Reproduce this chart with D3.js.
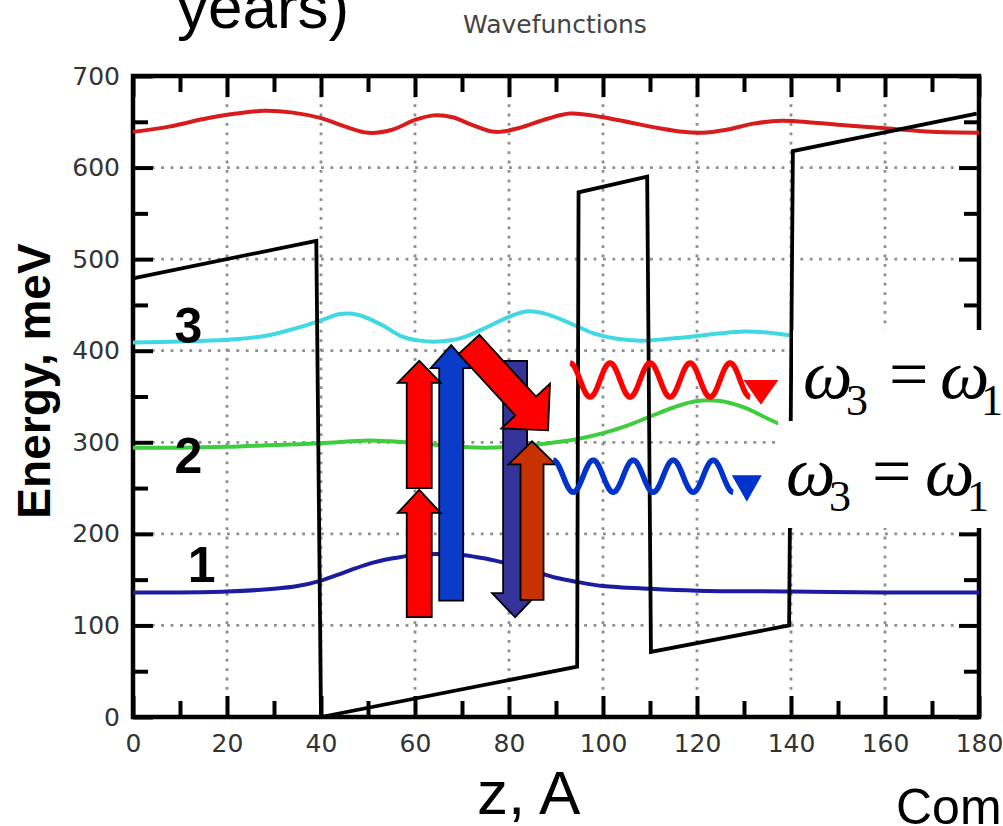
<!DOCTYPE html>
<html>
<head>
<meta charset="utf-8">
<script src="https://cdn.jsdelivr.net/npm/d3@7"></script>
<style>
  body { margin: 0; background: #fff; }
  svg { display: block; }
</style>
</head>
<body>
<svg id="chart" width="1003" height="826"></svg>
<script>
// ---------------- data ----------------
// Conduction-band edge (z in Å, energy in meV)
const potentialZ = [0, 39, 40, 94.5, 94.8, 109.4, 110.2, 139.6, 140.4, 179.5];
const potentialE = [479, 520, 0, 55, 573, 590, 71, 100, 618, 659];

// Wavefunctions plotted at their level energies
const redZ  = [0, 8, 15, 22, 28, 34, 40, 45, 50, 55, 60, 64, 68, 72, 77, 82, 88, 93, 100, 106, 112, 117, 121, 126, 132, 138, 145, 152, 160, 170, 180];
const redE  = [639, 645, 653, 659, 662, 660, 654, 645, 638, 641, 652, 657, 655, 647, 639, 643, 653, 659, 655, 649, 643, 639, 638, 641, 648, 651, 649, 646, 643, 639, 638];

const cyanZ = [0, 10, 20, 28, 35, 40, 44, 48, 53, 57, 61, 65, 70, 75, 80, 84, 88, 93, 98, 103, 108, 114, 120, 125, 130, 135, 140, 150, 160, 170, 180];
const cyanE = [409, 410, 412, 416, 425, 433, 440, 439, 428, 416, 411, 410, 414, 425, 437, 443, 440, 430, 419, 413, 411, 413, 416, 419, 421, 420, 417, 415, 414, 414, 414];

const greenZ = [0, 10, 20, 30, 40, 50, 55, 60, 65, 70, 75, 80, 85, 90, 95, 100, 105, 110, 115, 120, 125, 130, 135, 140, 150, 160, 170, 180];
const greenE = [294, 294, 295, 297, 299, 302, 301, 299, 297, 295, 294, 295, 297, 300, 304, 310, 318, 328, 338, 345, 345, 338, 326, 315, 302, 297, 295, 295];

const blueZ = [0, 10, 20, 30, 35, 40, 45, 50, 55, 60, 65, 70, 75, 80, 85, 90, 95, 100, 110, 120, 140, 160, 180];
const blueE = [136, 136, 137, 140, 143, 149, 158, 167, 173, 177, 178, 177, 173, 167, 160, 152, 147, 143, 140, 138, 137, 136, 136];

// Level numbers: label text, z, energy of baseline
const levelText = ["3", "2", "1"];
const levelZ    = [11.8, 11.8, 14.6];
const levelE    = [408, 267, 147];

// Transition arrows (from -> to), drawn in this order
const arrowFromZ = [67.7, 60.9, 60.9, 81.3, 84.9, 71.5];
const arrowFromE = [127, 109, 250, 389, 128, 407];
const arrowToZ   = [67.7, 60.9, 60.9, 81.3, 84.9, 88.3];
const arrowToE   = [406, 248, 389, 109, 301, 313];

// Emitted photons: z range, centre energy, amplitude (meV), number of cycles
const photonZ0 = [93.0, 89.4];
const photonZ1 = [131.3, 127.7];
const photonE  = [368, 263];
const photonAmp = [18.6, 17.5];
const photonCycles = [4.5, 4.5];
const photonHeadZ = [133.6, 130.6];
const photonHeadTopE = [368, 264];
const photonHeadTipE = [341, 235];

// Axis ticks
const xTicks = [0, 20, 40, 60, 80, 100, 120, 140, 160, 180];
const yTicks = [0, 100, 200, 300, 400, 500, 600, 700];

// ---------------- layout & styles ----------------
const plotL = 133, plotR = 979, plotT = 76, plotB = 717;
const svg = d3.select("#chart");
const x = d3.scaleLinear().domain([0, 180]).range([plotL, plotR]);
const y = d3.scaleLinear().domain([0, 700]).range([plotB, plotT]);

const arrowColors = ["#0a3cc8", "#ff0000", "#ff0000", "#333399", "#c83200", "#ff0000"];
const arrowShaft  = [12, 12.5, 12.5, 12, 11.5, 14];
const arrowHeadW  = [20.5, 21.5, 21.5, 23, 23.5, 33];
const arrowHeadL  = [23, 23, 22, 24, 23, 33];
const photonColors = ["#ff0000", "#0033cc"];
const photonHeadW = [35, 30];

// ---------------- text at the top / bottom ----------------
svg.append("text")
  .attr("x", 177).attr("y", 28)
  .attr("font-family", "Liberation Sans, Arial, sans-serif")
  .attr("font-size", 62).attr("fill", "#000")
  .text("years)");

svg.append("text")
  .attr("x", 555).attr("y", 33)
  .attr("text-anchor", "middle")
  .attr("font-family", "DejaVu Sans, sans-serif")
  .attr("font-size", 25).attr("fill", "#444")
  .text("Wavefunctions");

// ---------------- grid ----------------
const grid = svg.append("g")
  .attr("stroke", "#8e8e8e").attr("stroke-width", 2.8)
  .attr("stroke-dasharray", "2.8 6.6");
grid.selectAll("line.gx").data(xTicks.filter(d => d > 0 && d < 180)).join("line")
  .attr("class", "gx")
  .attr("x1", d => x(d)).attr("x2", d => x(d))
  .attr("y1", plotT).attr("y2", plotB);
grid.selectAll("line.gy").data(yTicks.filter(d => d > 0 && d < 700)).join("line")
  .attr("class", "gy")
  .attr("x1", plotL).attr("x2", plotR)
  .attr("y1", d => y(d)).attr("y2", d => y(d));

// ---------------- axes (ticks point inward) ----------------
function styleAxis(g) {
  g.select(".domain").remove();
  g.selectAll(".tick line").attr("stroke", "#000").attr("stroke-width", 4);
  g.selectAll(".tick text")
    .attr("font-family", "DejaVu Sans, sans-serif")
    .attr("font-size", 25).attr("fill", "#333");
}
const minorX = d3.range(10, 180, 20);
const minorY = d3.range(50, 700, 100);

svg.append("g").attr("transform", `translate(0,${plotB})`)
  .call(d3.axisBottom(x).tickValues(xTicks).tickSizeInner(-21).tickSizeOuter(0).tickPadding(17))
  .call(styleAxis);
svg.append("g").attr("transform", `translate(0,${plotB})`)
  .call(d3.axisBottom(x).tickValues(minorX).tickSizeInner(-16).tickSizeOuter(0).tickFormat(""))
  .call(styleAxis);
svg.append("g").attr("transform", `translate(0,${plotT})`)
  .call(d3.axisTop(x).tickValues(xTicks).tickSizeInner(-21).tickSizeOuter(0).tickFormat(""))
  .call(styleAxis);
svg.append("g").attr("transform", `translate(0,${plotT})`)
  .call(d3.axisTop(x).tickValues(minorX).tickSizeInner(-16).tickSizeOuter(0).tickFormat(""))
  .call(styleAxis);
svg.append("g").attr("transform", `translate(${plotL},0)`)
  .call(d3.axisLeft(y).tickValues(yTicks).tickSizeInner(-20).tickSizeOuter(0).tickPadding(13))
  .call(styleAxis);
svg.append("g").attr("transform", `translate(${plotL},0)`)
  .call(d3.axisLeft(y).tickValues(minorY).tickSizeInner(-15).tickSizeOuter(0).tickFormat(""))
  .call(styleAxis);
svg.append("g").attr("transform", `translate(${plotR},0)`)
  .call(d3.axisRight(y).tickValues(yTicks).tickSizeInner(-20).tickSizeOuter(0).tickFormat(""))
  .call(styleAxis);
svg.append("g").attr("transform", `translate(${plotR},0)`)
  .call(d3.axisRight(y).tickValues(minorY).tickSizeInner(-15).tickSizeOuter(0).tickFormat(""))
  .call(styleAxis);

// plot frame
svg.append("rect")
  .attr("x", plotL).attr("y", plotT)
  .attr("width", plotR - plotL).attr("height", plotB - plotT)
  .attr("fill", "none").attr("stroke", "#000").attr("stroke-width", 4.5);

// ---------------- curves ----------------
const smooth = d3.line().curve(d3.curveCatmullRom.alpha(0.5));
function drawWave(zs, es, color) {
  svg.append("path")
    .attr("d", smooth(zs.map((z, i) => [x(z), y(es[i])])))
    .attr("fill", "none").attr("stroke", color)
    .attr("stroke-width", 4).attr("stroke-linejoin", "round");
}
drawWave(redZ, redE, "#d81c1c");
drawWave(cyanZ, cyanE, "#40d8e2");
drawWave(greenZ, greenE, "#3ecd3e");
drawWave(blueZ, blueE, "#1c1ca0");

// band edge
svg.append("path")
  .attr("d", d3.line()(potentialZ.map((z, i) => [x(z), y(potentialE[i])])))
  .attr("fill", "none").attr("stroke", "#000")
  .attr("stroke-width", 3.8).attr("stroke-linejoin", "miter");

// level numbers
svg.selectAll("text.level").data(levelText).join("text")
  .attr("class", "level")
  .attr("x", (d, i) => x(levelZ[i])).attr("y", (d, i) => y(levelE[i]))
  .attr("text-anchor", "middle")
  .attr("font-family", "Liberation Sans, Arial, sans-serif")
  .attr("font-weight", "bold").attr("font-size", 50)
  .text(d => d);

// axis titles
svg.append("text")
  .attr("transform", `translate(50,${(240 + 522) / 2}) rotate(-90)`)
  .attr("text-anchor", "middle")
  .attr("font-family", "Liberation Sans, Arial, sans-serif")
  .attr("font-weight", "bold").attr("font-size", 46)
  .text("Energy, meV");

svg.append("text")
  .attr("x", 477).attr("y", 814)
  .attr("font-family", "Liberation Sans, Arial, sans-serif")
  .attr("font-size", 62)
  .text("z, A");

svg.append("text")
  .attr("x", 896).attr("y", 824)
  .attr("font-family", "Liberation Sans, Arial, sans-serif")
  .attr("font-size", 50)
  .text("Com");

// ---------------- transition arrows ----------------
function blockArrow(x0, y0, x1, y1, s, h, L) {
  const len = Math.hypot(x1 - x0, y1 - y0);
  const ux = (x1 - x0) / len, uy = (y1 - y0) / len;
  const nx = -uy, ny = ux;
  const bx = x1 - L * ux, by = y1 - L * uy;
  const pts = [
    [x0 + s * nx, y0 + s * ny], [bx + s * nx, by + s * ny], [bx + h * nx, by + h * ny],
    [x1, y1],
    [bx - h * nx, by - h * ny], [bx - s * nx, by - s * ny], [x0 - s * nx, y0 - s * ny]
  ];
  return "M" + pts.map(p => p.join(",")).join("L") + "Z";
}
arrowFromZ.forEach((z, i) => {
  svg.append("path")
    .attr("d", blockArrow(x(z), y(arrowFromE[i]), x(arrowToZ[i]), y(arrowToE[i]),
                          arrowShaft[i], arrowHeadW[i], arrowHeadL[i]))
    .attr("fill", arrowColors[i]).attr("stroke", "#000")
    .attr("stroke-width", 1.8).attr("stroke-linejoin", "miter");
});

// ---------------- emitted photons ----------------
photonZ0.forEach((z0, i) => {
  const pts = d3.range(0, 1.0001, 1 / 240).map(t => {
    const z = z0 + (photonZ1[i] - z0) * t;
    const e = photonE[i] + photonAmp[i] * Math.cos(2 * Math.PI * photonCycles[i] * t);
    return [x(z), y(e)];
  });
  svg.append("path")
    .attr("d", d3.line()(pts))
    .attr("fill", "none").attr("stroke", photonColors[i])
    .attr("stroke-width", 5.5).attr("stroke-linecap", "butt").attr("stroke-linejoin", "round");
  const hx = x(photonHeadZ[i]), hw = photonHeadW[i] / 2;
  svg.append("path")
    .attr("d", `M${hx - hw},${y(photonHeadTopE[i])}L${hx + hw},${y(photonHeadTopE[i])}L${hx},${y(photonHeadTipE[i])}Z`)
    .attr("fill", photonColors[i]);
});

// ---------------- frequency labels on white panels ----------------
svg.append("rect").attr("x", 793).attr("y", 330).attr("width", 210).attr("height", 91).attr("fill", "#fff");
svg.append("rect").attr("x", 778).attr("y", 421).attr("width", 225).attr("height", 107).attr("fill", "#fff");

function omegaLabel(xs, base, sub) {
  const g = svg.append("g")
    .attr("font-family", "Liberation Serif, Times New Roman, serif").attr("fill", "#000");
  g.append("text").attr("x", xs[0]).attr("y", base).attr("font-size", 70).attr("font-style", "italic").text("ω");
  g.append("text").attr("x", xs[1]).attr("y", sub).attr("font-size", 44).text("3");
  g.append("text").attr("x", xs[2]).attr("y", base).attr("font-size", 70).text("=");
  g.append("text").attr("x", xs[3]).attr("y", base).attr("font-size", 70).attr("font-style", "italic").text("ω");
  g.append("text").attr("x", xs[4]).attr("y", sub).attr("font-size", 44).text("1");
}
omegaLabel([803, 846, 889, 940, 981], 398, 415);
omegaLabel([786, 829, 872, 925, 967], 495, 511);
</script>
</body>
</html>
